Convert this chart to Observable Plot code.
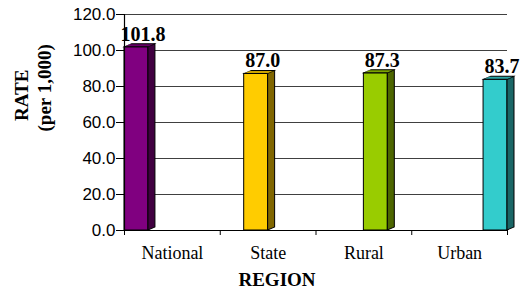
<!DOCTYPE html>
<html><head><meta charset="utf-8">
<script src="https://cdn.jsdelivr.net/npm/d3@7"></script>
<script src="https://cdn.jsdelivr.net/npm/@observablehq/plot@0.6"></script>
<style>body{margin:0;background:#fff}</style>
</head><body><div id="chart"></div>
<script>
const regions = ["National", "State", "Rural", "Urban"];
const rates = [101.8, 87.0, 87.3, 83.7];
const yTicks = [0, 20, 40, 60, 80, 100, 120];
const frontColors = ["#800080", "#ffcc00", "#99cc00", "#33cccc"];
const sideColors = ["#400040", "#806600", "#4d6600", "#1a6666"];
const topColors = ["#660066", "#cca300", "#7aa300", "#29a3a3"];

const serif = "Liberation Serif, Times New Roman, serif";
const n = regions.length;
const data = regions.map((r, i) => ({
  region: r, rate: rates[i], i,
  x1: i + i / n, x2: i + (i + 1) / n
}));

const chart = Plot.plot({
  width: 522, height: 297,
  marginLeft: 124, marginRight: 15, marginTop: 14, marginBottom: 67,
  style: {background: "#fff", fontFamily: "Liberation Sans, Arial, sans-serif", fontSize: "17px", color: "#000", overflow: "visible"},
  x: {type: "linear", domain: [0, n], ticks: d3.range(n + 1), tickFormat: () => "", tickSize: 5, label: null},
  y: {domain: [0, 120], ticks: yTicks, tickFormat: d => d.toFixed(1), tickSize: 8, tickPadding: 1, label: null},
  color: {type: "identity"},
  marks: [
    Plot.ruleY(yTicks.slice(1), {stroke: "#404040", strokeWidth: 1.2}),
    Plot.ruleY([0], {stroke: "#000", strokeWidth: 1.2}),
    Plot.rect(data, {x1: "x1", x2: "x2", y1: 0, y2: "rate", fill: d => frontColors[d.i], stroke: "#000", strokeWidth: 1}),
    Plot.rect(data, {x1: "x2", x2: "x2", y1: 0, y2: "rate", insetRight: -7, fill: d => sideColors[d.i], stroke: "#000", strokeWidth: 1}),
    Plot.rect(data, {x1: "x1", x2: "x2", y1: "rate", y2: "rate", insetTop: -3, fill: d => topColors[d.i], stroke: "#000", strokeWidth: 1}),
    Plot.ruleX([0], {stroke: "#000", strokeWidth: 1.2}),
    Plot.text(data, {x: d => (d.x1 + d.x2) / 2, y: "rate", text: d => d.rate.toFixed(1), dx: 6.5, dy: -12.9, lineAnchor: "middle", fontFamily: serif, fontWeight: "bold", fontSize: 20, fill: "#000"}),
    Plot.text(data, {x: d => d.i + 0.5, y: 0, text: "region", dy: 23.2, lineAnchor: "middle", fontFamily: serif, fontSize: 18, fill: "#000"}),
    Plot.text(["REGION"], {text: d => d, frameAnchor: "bottom", dx: -39, dy: 49.4, lineAnchor: "middle", fontFamily: serif, fontWeight: "bold", fontSize: 19, fill: "#000"}),
    Plot.text(["RATE"], {text: d => d, frameAnchor: "left", rotate: -90, dx: -102.5, dy: -1.5, lineAnchor: "middle", fontFamily: serif, fontWeight: "bold", fontSize: 19, fill: "#000"}),
    Plot.text(["(per 1,000)"], {text: d => d, frameAnchor: "left", rotate: -90, dx: -79.5, dy: 9, lineAnchor: "middle", fontFamily: serif, fontWeight: "bold", fontSize: 19, fill: "#000"})
  ]
});

document.getElementById("chart").appendChild(chart);
const root = chart.tagName.toLowerCase() === "svg" ? chart : chart.querySelector("svg");
const svg = d3.select(root);
const norm = c => String(c || "").toLowerCase();
svg.selectAll("rect").each(function() {
  const r = d3.select(this);
  const f = norm(r.attr("fill"));
  if (sideColors.includes(f)) {
    const x = +r.attr("x");
    r.attr("transform", `translate(${x},0) skewY(-23.2) translate(${-x},0)`);
  } else if (topColors.includes(f)) {
    const y = +r.attr("y") + +r.attr("height");
    r.attr("transform", `translate(0,${y}) skewX(-66.8) translate(0,${-y})`);
  }
});
</script>
</body></html>
